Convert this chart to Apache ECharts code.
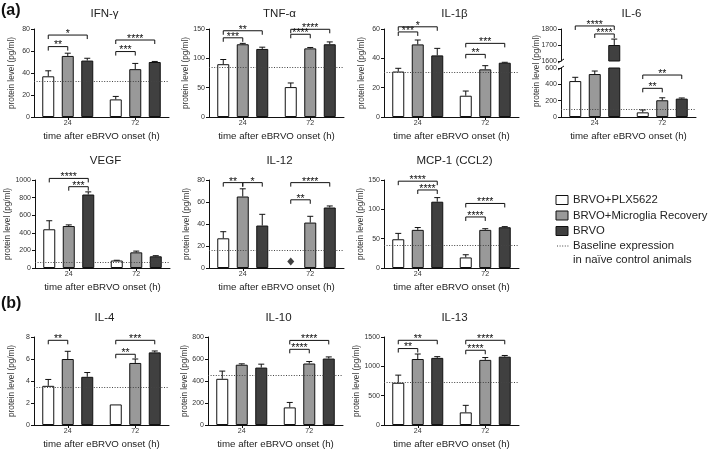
<!DOCTYPE html>
<html><head><meta charset="utf-8">
<script src="https://cdn.jsdelivr.net/npm/echarts@6/dist/echarts.min.js"></script>
<style>html,body{margin:0;padding:0;background:#fff}#c{width:709px;height:450px}</style>
</head><body><div id="c"></div>
<script>
// ---------------- DATA ----------------
const categories = ['24', '72'];
const groupNames = ['BRVO+PLX5622', 'BRVO+Microglia Recovery', 'BRVO'];
const xName = 'time after eBRVO onset (h)';
const yName = 'protein level (pg/ml)';
// rows: PLX5622, Microglia Recovery, BRVO ; columns: 24 h, 72 h
// *Mean = bar height, *Err = top of error bar
const ifnMean = [[37, 16], [55.5, 43.5], [51.3, 50]];
const ifnErr  = [[42, 18.7], [58, 48.7], [53.4, 50.5]];
const ifnBase = 32.6;
const ifnSig  = [[0,0,1,64,'**'], [0,0,2,74.5,'*'], [1,0,1,59.5,'***'], [1,0,2,70,'****']];

const tnfMean = [[90, 51], [124, 117], [116, 124]];
const tnfErr  = [[98, 58], [125.5, 118.5], [119, 128]];
const tnfBase = 84;
const tnfSig  = [[0,0,1,135,'***'], [0,0,2,147,'**'], [1,0,1,141,'****'], [1,0,2,149.5,'****']];

const il1Mean = [[31, 14.5], [49.5, 32.5], [42, 37]];
const il1Err  = [[33.2, 17.7], [52.5, 35], [46.8, 37.3]];
const il1Base = 30.5;
const il1Sig  = [[0,0,1,58,'***'], [0,0,2,61.5,'*'], [1,0,1,42.7,'**'], [1,0,2,50.2,'***']];

const il6Mean = [[440, 57], [526, 205], [1700, 225]];
const il6Err  = [[486, 86], [563, 235], [1737, 233]];
const il6Base = 100;
const il6Sig  = [[0,0,2,1819,'****'], [0,1,2,1769,'****'], [1,0,1,351,'**'], [1,0,2,514,'**']];

const vegfMean = [[440, 85], [477, 178], [835, 133]];
const vegfErr  = [[537, 88], [490, 192], [865, 140]];
const vegfBase = 70;
const vegfSig  = [[0,0,2,1018,'****'], [0,1,2,924,'***']];

const il12Mean = [[27, null], [65, 41.3], [38.6, 55]];
const il12Err  = [[33, null], [72, 47], [48.8, 56.4]];
const il12NotDetected = [null, 6]; // PLX5622 at 72 h shown as a diamond
const il12Base = 16.5;
const il12Sig  = [[0,0,1,77.6,'**'], [0,1,2,77.6,'*'], [1,0,1,62,'**'], [1,0,2,77.6,'****']];

const mcpMean = [[49, 18], [65, 65], [113, 69.5]];
const mcpErr  = [[59, 22.6], [69, 67], [120, 70.5]];
const mcpBase = 38;
const mcpSig  = [[0,0,2,148,'****'], [0,1,2,133,'****'], [1,0,1,87,'****'], [1,0,2,110,'****']];

const il4Mean = [[3.56, 1.87], [6.0, 5.64], [4.38, 6.6]];
const il4Err  = [[4.14, null], [6.7, 6.0], [4.77, 6.73]];
const il4Base = 3.47;
const il4Sig  = [[0,0,1,7.7,'**'], [1,0,1,6.43,'**'], [1,0,2,7.7,'***']];

const il10Mean = [[420, 160], [548, 559], [522, 604]];
const il10Err  = [[490, 205], [556, 577], [553, 619]];
const il10Base = 450;
const il10Sig  = [[1,0,1,688,'****'], [1,0,2,769,'****']];

const il13Mean = [[720, 215], [1125, 1110], [1144, 1165]];
const il13Err  = [[850, 335], [1210, 1150], [1165, 1185]];
const il13Base = 725;
const il13Sig  = [[0,0,1,1303,'**'], [0,0,2,1444,'**'], [1,0,1,1274,'****'], [1,0,2,1444,'****']];

// ---------------- LAYOUT / STYLE ----------------
const FONT = "'Liberation Sans', Arial, sans-serif";
const GW = 135, GH = 88, BW = 12, OFF = 19.5;
const colors = ['#ffffff', '#999999', '#404040'];
const INK = '#111';

const panels = [
  {title:'IFN-γ', mean:ifnMean, err:ifnErr, base:ifnBase, sig:ifnSig, max:80, step:20, left:34, top:29, ty:14},
  {title:'TNF-α', mean:tnfMean, err:tnfErr, base:tnfBase, sig:tnfSig, max:150, step:50, left:209, top:29, ty:14},
  {title:'IL-1β', mean:il1Mean, err:il1Err, base:il1Base, sig:il1Sig, max:60, step:20, left:384, top:29, ty:14},
  {title:'VEGF', mean:vegfMean, err:vegfErr, base:vegfBase, sig:vegfSig, max:1000, step:200, left:35, top:180, ty:161},
  {title:'IL-12', mean:il12Mean, err:il12Err, base:il12Base, sig:il12Sig, max:80, step:20, left:209, top:180, ty:161, nd:il12NotDetected},
  {title:'MCP-1 (CCL2)', mean:mcpMean, err:mcpErr, base:mcpBase, sig:mcpSig, max:150, step:50, left:384, top:180, ty:161},
  {title:'IL-4', mean:il4Mean, err:il4Err, base:il4Base, sig:il4Sig, max:8, step:2, left:34, top:337, ty:318},
  {title:'IL-10', mean:il10Mean, err:il10Err, base:il10Base, sig:il10Sig, max:800, step:200, left:208, top:337, ty:318},
  {title:'IL-13', mean:il13Mean, err:il13Err, base:il13Base, sig:il13Sig, max:1500, step:500, left:384, top:337, ty:318}
];

const grid = [], xAxis = [], yAxis = [], series = [], graphic = [];

function addGrid(left, top, height) {
  grid.push({left: left, top: top, width: GW, height: height, containLabel: false, outerBoundsMode: 'none'});
  return grid.length - 1;
}
function addAxes(gi, min, max, step, showX, yname) {
  xAxis.push({gridIndex: gi, type: 'category', data: categories, show: showX,
    axisLine: {show: true, lineStyle: {color: INK, width: 1}},
    axisTick: {show: true, alignWithLabel: true, length: 3, lineStyle: {color: INK}},
    axisLabel: {fontSize: 7, color: '#333', margin: 3, fontFamily: FONT},
    name: showX ? xName : '', nameLocation: 'middle', nameGap: 14,
    nameTextStyle: {fontSize: 9.7, color: '#222', fontFamily: FONT}});
  yAxis.push({gridIndex: gi, type: 'value', min: min, max: max, interval: step,
    axisLine: {show: true, lineStyle: {color: INK, width: 1}},
    axisTick: {show: true, length: 3, lineStyle: {color: INK}},
    splitLine: {show: false},
    axisLabel: {fontSize: 7, color: '#333', margin: 4, fontFamily: FONT, formatter: v => String(v)},
    name: yname, nameLocation: 'middle', nameGap: 18,
    nameTextStyle: {fontSize: 8.2, color: '#333', fontFamily: FONT}});
}
function addBars(gi, mean, base) {
  for (let g = 0; g < 3; g++) {
    const s = {type: 'bar', name: groupNames[g], xAxisIndex: gi, yAxisIndex: gi, data: mean[g],
      barWidth: BW, barGap: '62.5%', clip: true, silent: true,
      itemStyle: {color: colors[g], borderColor: INK, borderWidth: 1}};
    if (g === 0 && base != null) {
      s.markLine = {silent: true, symbol: ['none', 'none'], label: {show: false},
        lineStyle: {type: [1, 1.6], color: '#444', width: 1}, data: [{yAxis: base}]};
    }
    series.push(s);
  }
}
function renderErr(params, api) {
  const c = api.value(0), g = api.value(1);
  const p0 = api.coord([c, api.value(2)]);
  const p1 = api.coord([c, api.value(3)]);
  const x = p0[0] + (g - 1) * OFF;
  return {type: 'group', children: [
    {type: 'line', shape: {x1: x, y1: p0[1], x2: x, y2: p1[1]}, style: {stroke: INK, lineWidth: 1}},
    {type: 'line', shape: {x1: x - 3, y1: p1[1], x2: x + 3, y2: p1[1]}, style: {stroke: INK, lineWidth: 1}}
  ]};
}
function addErr(gi, mean, err, keep) {
  const data = [];
  for (let g = 0; g < 3; g++) for (let c = 0; c < 2; c++) {
    if (mean[g][c] != null && err[g][c] != null && keep(mean[g][c], err[g][c])) data.push([c, g, mean[g][c], err[g][c]]);
  }
  series.push({type: 'custom', xAxisIndex: gi, yAxisIndex: gi, data: data, silent: true, z: 5,
    encode: {x: 0, y: [2, 3]}, renderItem: renderErr});
}
function addSig(gi, sig) {
  const labels = sig.map(s => s[4]);
  const data = sig.map(s => s.slice(0, 4));
  series.push({type: 'custom', xAxisIndex: gi, yAxisIndex: gi, data: data, silent: true, z: 6,
    encode: {x: 0, y: 3},
    renderItem: function (params, api) {
      const c = api.value(0), a = api.value(1), b = api.value(2);
      const p = api.coord([c, api.value(3)]);
      const x1 = p[0] + (a - 1) * OFF, x2 = p[0] + (b - 1) * OFF, y = p[1];
      return {type: 'group', children: [
        {type: 'polyline', shape: {points: [[x1, y + 4], [x1, y], [x2, y], [x2, y + 4]]},
          style: {stroke: INK, lineWidth: 1, fill: null}},
        {type: 'text', x: (x1 + x2) / 2, y: y - 1,
          style: {text: labels[params.dataIndex], align: 'center', verticalAlign: 'middle',
            fontSize: 10.5, fill: INK, fontFamily: FONT}}
      ]};
    }});
}
function addTitle(text, x, y) {
  graphic.push({type: 'text', x: x, y: y, silent: true,
    style: {text: text, align: 'center', verticalAlign: 'middle', fontSize: 11.5, fill: '#222', fontFamily: FONT}});
}

panels.forEach(p => {
  const gi = addGrid(p.left, p.top, GH);
  addAxes(gi, 0, p.max, p.step, true, yName);
  addBars(gi, p.mean, p.base);
  addErr(gi, p.mean, p.err, () => true);
  addSig(gi, p.sig);
  if (p.nd) {
    series.push({type: 'scatter', xAxisIndex: gi, yAxisIndex: gi, silent: true, z: 6,
      data: p.nd.map((v, c) => v == null ? null : [c, v]).filter(d => d),
      symbol: 'diamond', symbolSize: [7, 8], symbolOffset: [-OFF, 0], itemStyle: {color: INK}});
  }
  addTitle(p.title, p.left + GW / 2 + 3, p.ty);
});

// IL-6 with broken axis: upper segment 1600-1800, lower segment 0-600
const IL6_LEFT = 561, IL6_TOP = 29;
const giTop = addGrid(IL6_LEFT, IL6_TOP, 32);
addAxes(giTop, 1600, 1800, 100, false, '');
addBars(giTop, il6Mean, null);
addErr(giTop, il6Mean, il6Err, (m, e) => m >= 1600);
addSig(giTop, il6Sig.filter(s => s[3] >= 1600));
const giBot = addGrid(IL6_LEFT, IL6_TOP + 39, 49);
addAxes(giBot, 0, 600, 200, true, '');
addBars(giBot, il6Mean, il6Base);
addErr(giBot, il6Mean, il6Err, (m, e) => e <= 600);
addSig(giBot, il6Sig.filter(s => s[3] < 1600));
addTitle('IL-6', IL6_LEFT + GW / 2 + 3, 14);
graphic.push({type: 'text', x: IL6_LEFT - 24, y: IL6_TOP + 42, rotation: Math.PI / 2, silent: true,
  style: {text: yName, align: 'center', verticalAlign: 'middle', fontSize: 8.2, fill: '#333', fontFamily: FONT}});
// break marks on the axis
[[IL6_TOP + 32], [IL6_TOP + 39]].forEach(r => {
  graphic.push({type: 'line', silent: true, shape: {x1: IL6_LEFT - 3, y1: r[0] + 2, x2: IL6_LEFT + 3, y2: r[0] - 2},
    style: {stroke: INK, lineWidth: 1}});
});

// panel letters
graphic.push({type: 'text', x: 1, y: 11, silent: true,
  style: {text: '(a)', align: 'left', verticalAlign: 'middle', fontSize: 16, fontWeight: 'bold', fill: '#111', fontFamily: FONT}});
graphic.push({type: 'text', x: 1, y: 304, silent: true,
  style: {text: '(b)', align: 'left', verticalAlign: 'middle', fontSize: 16, fontWeight: 'bold', fill: '#111', fontFamily: FONT}});

// legend
const LX = 556, LT = 573;
const legendRows = [200, 215.5, 231];
groupNames.forEach((n, i) => {
  graphic.push({type: 'rect', silent: true, shape: {x: LX, y: legendRows[i] - 4.5, width: 12, height: 9},
    style: {fill: colors[i], stroke: INK, lineWidth: 1}});
  graphic.push({type: 'text', x: LT, y: legendRows[i], silent: true,
    style: {text: n, align: 'left', verticalAlign: 'middle', fontSize: 11.3, fill: '#222', fontFamily: FONT}});
});
graphic.push({type: 'line', silent: true, shape: {x1: LX + 1, y1: 246, x2: LX + 13, y2: 246},
  style: {stroke: '#444', lineWidth: 1, lineDash: [1, 1.6]}});
graphic.push({type: 'text', x: LT, y: 246, silent: true,
  style: {text: 'Baseline expression', align: 'left', verticalAlign: 'middle', fontSize: 11.3, fill: '#222', fontFamily: FONT}});
graphic.push({type: 'text', x: LT, y: 260, silent: true,
  style: {text: 'in naïve control animals', align: 'left', verticalAlign: 'middle', fontSize: 11.3, fill: '#222', fontFamily: FONT}});

const chart = echarts.init(document.getElementById('c'), null, {renderer: 'canvas'});
chart.setOption({
  animation: false,
  backgroundColor: '#fff',
  textStyle: {fontFamily: FONT},
  grid: grid, xAxis: xAxis, yAxis: yAxis, series: series, graphic: graphic
});
</script></body></html>
